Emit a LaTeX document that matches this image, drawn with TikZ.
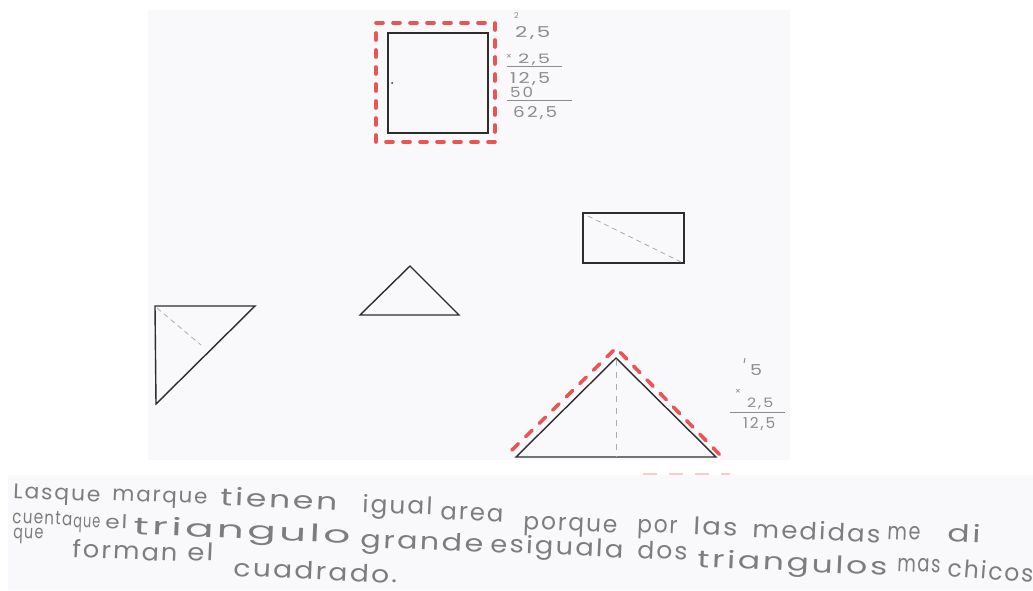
\documentclass[tikz,border=0pt]{standalone}
\usepackage{graphicx}
\usepackage{fontspec}
\setmainfont{Poppins}
\newfontfamily\handfont{Poppins}[LetterSpace=8]
\newfontfamily\digitfont{Poppins}[LetterSpace=12]
\newcommand\hwfit[2]{\resizebox{#1}{\height}{#2}}
\definecolor{pagebg}{RGB}{249,249,251}
\definecolor{inkred}{RGB}{236,84,84}
\definecolor{ink}{RGB}{45,45,45}
\definecolor{pencil}{RGB}{125,125,125}
\definecolor{pencillight}{RGB}{140,140,140}
\tikzset{
  shape line/.style={draw=ink, line width=1.4pt, line join=miter},
  red mark/.style={draw=inkred, line width=3.6pt, line cap=round, dash pattern=on 7pt off 10pt},
  aux dash/.style={draw=gray!65, line width=0.8pt, dash pattern=on 5pt off 4pt},
  hand/.style={text=pencil, font=\handfont\fontsize{24}{24}\selectfont, anchor=base west, inner sep=0pt, rotate=-2.5},
  small hand/.style={hand, font=\handfont\fontsize{19}{19}\selectfont},
  digits/.style={text=pencillight, font=\digitfont\fontsize{15}{15}\selectfont, anchor=base west, inner sep=0pt},
  rule line/.style={draw=pencillight, line width=0.9pt}
}
\begin{document}
\begin{tikzpicture}[x=1pt,y=-1pt]
\useasboundingbox (0,0) rectangle (1033,590);
\fill[white] (0,0) rectangle (1033,590);
\fill[pagebg] (148,10) rectangle (790,460);
\fill[pagebg] (8,475) rectangle (1033,590);

% square with red dashed frame
\draw[shape line] (388,33) rectangle (488,133);
\fill[ink] (392,83) circle (1pt);
\draw[red mark] (376,23) -- (495,23) -- (495,142) -- (376,142) -- cycle;

% computation beside the square
\node[digits, font=\digitfont\fontsize{8}{8}\selectfont] (c0) at (514,18) {2};
\node[digits] (c1) at (515,37) {\hwfit{35pt}{2,5}};
\node[digits, font=\digitfont\fontsize{9}{9}\selectfont] (c2x) at (506,59) {×};
\node[digits, font=\digitfont\fontsize{13}{13}\selectfont] (c2) at (518,63) {\hwfit{32pt}{2,5}};
\draw[rule line] (507,66) -- (562,66);
\node[digits] (c3) at (510,83) {\hwfit{40pt}{12,5}};
\node[digits, font=\digitfont\fontsize{14}{14}\selectfont] (c4) at (510,97) {\hwfit{23pt}{50}};
\draw[rule line] (507,100) -- (572,100);
\node[digits] (c5) at (513,117) {\hwfit{44pt}{62,5}};

% rectangle with diagonal
\draw[shape line] (583,213) rectangle (684,263);
\draw[aux dash] (588,216) -- (681,262);

% middle triangle
\draw[shape line] (360,315) -- (410,266) -- (459,315) -- cycle;

% left triangle
\draw[shape line] (155,306) -- (255,306) -- (156,404) -- cycle;
\draw[aux dash] (157,308) -- (201,345);

% big triangle
\draw[shape line] (516,457) -- (616,358) -- (716,457) -- cycle;
\draw[aux dash, dash pattern=on 6pt off 6pt] (616,360) -- (616,457);
\draw[red mark, dash pattern=on 9pt off 10pt] (512,450) -- (616,348) -- (722,457);
\draw[draw=inkred!30, line width=2.5pt, dash pattern=on 14pt off 12pt] (643,474) -- (730,474);

% computation beside big triangle
\draw[pencillight, line width=1pt] (745,358) -- (744,363);
\node[digits] (d1) at (750,375) {\hwfit{12pt}{5}};
\node[digits, font=\digitfont\fontsize{9}{9}\selectfont] (d2x) at (735,394) {×};
\node[digits, font=\digitfont\fontsize{13}{13}\selectfont] (d2) at (747,407) {\hwfit{26pt}{2,5}};
\draw[rule line] (730,412) -- (785,412);
\node[digits] (d3) at (743,428) {\hwfit{32pt}{12,5}};

% handwritten sentence, line 1
\node[hand, font=\handfont\fontsize{21}{21}\selectfont] (a1) at (13,498) {\hwfit{87pt}{Lasque}};
\node[hand, font=\handfont\fontsize{21}{21}\selectfont] (a2) at (112,500) {\hwfit{95pt}{marque}};
\node[hand] (a3) at (220,505) {\hwfit{117pt}{tienen}};
\node[hand] (a4) at (362,512) {\hwfit{70pt}{igual}};
\node[hand] (a5) at (440,519) {\hwfit{63pt}{area}};
\node[hand] (a6) at (523,529) {\hwfit{94pt}{porque}};
\node[hand] (a7) at (637,532) {\hwfit{40pt}{por}};
\node[hand] (a8) at (693,534) {\hwfit{44pt}{las}};
\node[hand] (a9) at (752,537) {\hwfit{128pt}{medidas}};
\node[hand] (a10) at (887,539) {\hwfit{33pt}{me}};
\node[hand] (a11) at (947,541) {\hwfit{33pt}{di}};

% line 2
\node[small hand] (b1) at (12,523) {\hwfit{60pt}{cuenta}};
\node[small hand] (b2) at (73,527) {\hwfit{27pt}{que}};
\node[small hand] (b3) at (105,528) {\hwfit{22pt}{el}};
\node[hand] (b4) at (133,534) {\hwfit{217pt}{triangulo}};
\node[hand] (b5) at (360,547) {\hwfit{123pt}{grande}};
\node[hand] (b6) at (490,552) {\hwfit{133pt}{esiguala}};
\node[hand] (b7) at (637,558) {\hwfit{50pt}{dos}};
\node[hand] (b8) at (697,567) {\hwfit{190pt}{triangulos}};
\node[hand] (b9) at (897,571) {\hwfit{43pt}{mas}};
\node[hand, rotate=-2] (b10) at (947,576) {\hwfit{86pt}{chicos}};

% line 3
\node[small hand] (e1) at (13,538) {\hwfit{30pt}{que}};
\node[hand] (e2) at (72,557) {\hwfit{105pt}{forman}};
\node[hand] (e3) at (187,560) {\hwfit{26pt}{el}};
\node[hand] (e4) at (233,576) {\hwfit{164pt}{cuadrado.}};
\end{tikzpicture}
\end{document}
